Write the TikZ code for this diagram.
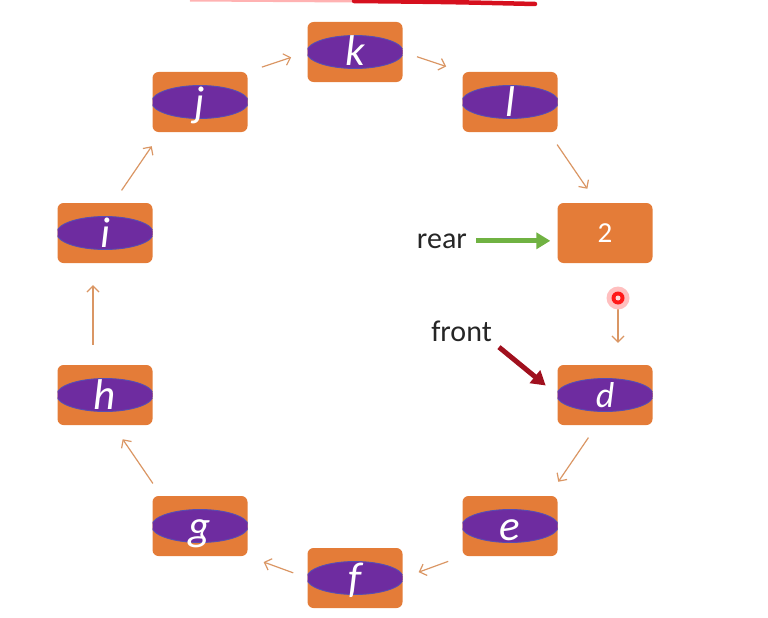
\documentclass[tikz,border=0pt]{standalone}
\usepackage{fontspec}
\setmainfont{Carlito}
\usepackage{tikz}
\usetikzlibrary{arrows.meta, positioning}
\definecolor{cellorange}{RGB}{228,124,56}
\definecolor{cellpurple}{RGB}{110,44,160}
\definecolor{cellrim}{RGB}{88,78,178}
\definecolor{linkbrown}{RGB}{218,150,100}
\definecolor{reargreen}{RGB}{112,178,66}
\definecolor{frontred}{RGB}{160,16,30}
\definecolor{inkred}{RGB}{214,16,30}
\tikzset{
  cell/.style={rectangle, rounded corners=6pt, fill=cellorange, minimum width=95pt, minimum height=60pt, inner sep=0pt, text=white, font=\fontsize{43}{43}\selectfont\itshape, text height=28pt, text depth=0pt},
  oval/.style={cell, path picture={\draw[cellrim, fill=cellpurple, line width=0.9pt] (path picture bounding box.center) ellipse [x radius=48.5pt, y radius=16.5pt];}},
  link/.style={-{Straight Barb[length=6pt, width=12pt]}, draw=linkbrown, line width=1.2pt, shorten <=15pt, shorten >=17pt},
  pointer/.style={-{Triangle[length=14pt, width=16pt]}, line width=5pt},
  tag/.style={inner sep=0pt, font=\fontsize{30}{30}\selectfont, text=black!85}
}

\begin{document}
\begin{tikzpicture}[x=1pt, y=-1pt]
    \useasboundingbox (0,0) rectangle (768,618);

    \node[oval] (k) at (355,52) {k};
    \node[oval] (l) at (510,102) {l};
    \node[cell, font=\fontsize{29}{29}\selectfont, text height=18pt] (two) at (605,233) {2};
    \node[oval, font=\fontsize{36}{36}\selectfont\itshape, text height=25pt] (d) at (605,395) {d};
    \node[oval] (e) at (510,526) {e};
    \node[oval] (f) at (355,578) {f};
    \node[oval] (g) at (200,526) {g};
    \node[oval] (h) at (105,395) {h};
    \node[oval] (i) at (105,233) {i};
    \node[oval] (j) at (200,102) {j};

    \node[tag, anchor=base east] (rear) at (467,248) {rear};
    \node[tag, anchor=base east] (front) at (492,341) {front};

    \draw[link] (j.north east) -- (k.west);
    \draw[link] (k.east) -- (l.north west);
    \draw[link] (l.-38) -- (two.105);
    \draw[link, shorten <=24pt, shorten >=22pt] ([xshift=13pt]two.south) -- ([xshift=13pt]d.north);
    \draw[link] (d.-105) -- (e.38);
    \draw[link] (e.south west) -- (f.east);
    \draw[link] (f.west) -- (g.south east);
    \draw[link] (g.142) -- (h.-75);
    \draw[link, shorten <=20pt, shorten >=22pt] ([xshift=-12pt]h.north) -- ([xshift=-12pt]i.south);
    \draw[link] (i.75) -- (j.-142);

    \draw[pointer, reargreen, shorten <=9pt, shorten >=7pt] (rear.east) -- (rear.east -| two.west);
    \draw[pointer, frontred, shorten <=9pt, shorten >=15pt] (front.south east) -- (d.west);

    % pen stroke and laser dot
    \draw[line width=3pt, red!30] (190,0) -- (356,1);
    \draw[line width=4.5pt, inkred, line cap=round] (354,1) .. controls (450,2) .. (535,4);
    \fill[red!25] (618,298) circle (11.5pt);
    \fill[red!90] (618,298) circle (6.5pt);
    \fill[red!15] (618,298) circle (2.5pt);
\end{tikzpicture}
\end{document}
